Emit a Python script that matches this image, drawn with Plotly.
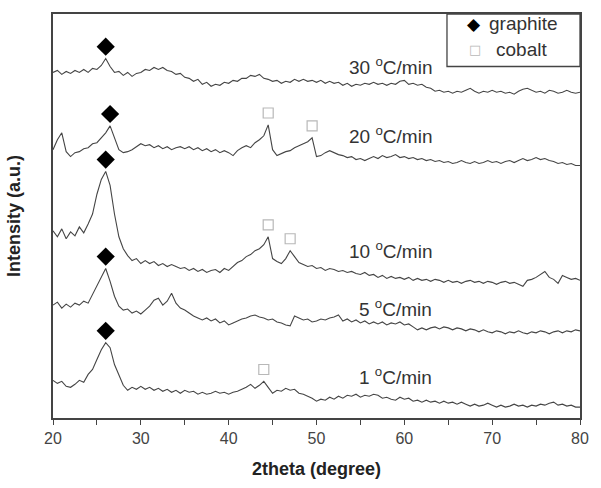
import numpy as np
import plotly.graph_objects as go

# 2theta grid (degrees), 0.5 deg steps from 20 to 80
two_theta = [20 + 0.5 * i for i in range(121)]

# Stacked intensities (a.u.)
i_30 = [349, 351, 347, 350, 348, 351, 349, 352, 349, 353,
        352, 356, 363, 355, 349, 350, 346, 349, 345, 348,
        349, 352, 351, 354, 352, 354, 351, 350, 347, 348,
        344, 343, 340, 342, 337, 339, 335, 337, 336, 339,
        338, 341, 340, 343, 343, 346, 345, 347, 343, 342,
        340, 341, 338, 340, 339, 342, 340, 342, 340, 341,
        339, 341, 338, 340, 338, 339, 336, 338, 335, 337,
        336, 338, 337, 339, 337, 338, 336, 338, 337, 340,
        341, 337, 338, 336, 337, 334, 333, 330, 331, 329,
        330, 328, 330, 329, 331, 333, 330, 328, 330, 329,
        331, 329, 330, 328, 329, 327, 330, 332, 333, 331,
        329, 330, 328, 331, 330, 328, 329, 331, 329, 328,
        329]

i_20 = [271, 281, 288, 269, 264, 268, 269, 272, 273, 277,
        278, 283, 288, 295, 284, 271, 268, 269, 271, 274,
        277, 275, 276, 273, 275, 272, 274, 271, 273, 274,
        272, 274, 271, 273, 270, 272, 269, 271, 268, 270,
        268, 265, 270, 273, 275, 273, 278, 281, 285, 296,
        271, 265, 267, 269, 270, 273, 275, 277, 279, 283,
        264, 265, 268, 270, 268, 266, 265, 263, 264, 261,
        262, 260, 262, 264, 262, 265, 263, 264, 266, 263,
        264, 262, 263, 261, 262, 260, 261, 259, 260, 258,
        259, 257, 258, 260, 258, 257, 259, 257, 258, 260,
        258, 259, 257, 259, 260, 258, 260, 262, 260, 261,
        263, 261, 262, 260, 259, 257, 258, 256, 257, 255,
        255]

i_10 = [189, 183, 191, 181, 188, 184, 193, 187, 196, 206,
        226, 241, 249, 235, 206, 183, 171, 164, 159, 161,
        156, 159, 156, 158, 154, 156, 153, 155, 153, 151,
        152, 149, 151, 148, 150, 147, 149, 150, 147, 151,
        149, 153, 157, 159, 163, 165, 169, 171, 175, 183,
        161, 158, 156, 161, 169, 163, 157, 155, 153, 154,
        151, 152, 149, 151, 150, 148, 149, 147, 148, 146,
        145, 147, 144, 145, 142, 144, 141, 143, 141, 142,
        140, 142, 139, 141, 139, 140, 138, 140, 139, 137,
        139, 137, 138, 136, 138, 139, 137, 138, 136, 138,
        137, 135, 137, 138, 136, 137, 135, 133, 139, 140,
        142, 145, 148, 142, 140, 136, 144, 142, 140, 141,
        139]

i_5 = [114, 117, 111, 115, 112, 116, 114, 118, 116, 125,
       133, 142, 151, 138, 123, 113, 109, 110, 106, 108,
       105, 109, 113, 119, 121, 114, 118, 126, 116, 111,
       109, 106, 103, 101, 99, 101, 98, 100, 96, 98,
       94, 96, 98, 100, 101, 103, 104, 102, 101, 99,
       100, 97, 96, 94, 93, 103, 101, 99, 100, 97,
       98, 100, 99, 101, 102, 104, 98, 100, 97, 99,
       96, 98, 95, 97, 95, 97, 94, 96, 95, 97,
       94, 95, 92, 89, 91, 89, 91, 92, 90, 92,
       91, 89, 91, 90, 88, 90, 89, 87, 89, 87,
       86, 88, 87, 85, 87, 86, 88, 86, 85, 87,
       86, 88, 87, 85, 87, 88, 86, 88, 87, 89,
       88]

i_1 = [38, 35, 37, 32, 31, 34, 38, 36, 44, 49,
       59, 69, 76, 71, 54, 43, 33, 28, 31, 29,
       32, 29, 31, 28, 30, 27, 29, 26, 28, 25,
       28, 26, 27, 24, 26, 24, 25, 27, 25, 26,
       24, 26, 27, 29, 31, 34, 30, 33, 37, 31,
       25, 28, 27, 30, 28, 29, 25, 24, 22, 20,
       17, 19, 18, 21, 19, 22, 20, 23, 22, 24,
       21, 23, 22, 24, 23, 20, 21, 19, 18, 21,
       19, 20, 17, 18, 16, 18, 16, 17, 15, 17,
       15, 16, 14, 16, 14, 12, 14, 12, 13, 15,
       13, 11, 13, 11, 12, 14, 12, 13, 11, 13,
       12, 14, 13, 15, 16, 13, 14, 12, 13, 11,
       11]

series = [("30 °C/min", i_30), ("20 °C/min", i_20), ("10 °C/min", i_10),
          ("5 °C/min", i_5), ("1 °C/min", i_1)]
rate_labels = ["30", "20", "10", "5", "1"]

# Peak assignments (2theta) per pattern
graphite_peaks = {"30": [26.0], "20": [26.5], "10": [26.0], "5": [26.0], "1": [26.0]}
cobalt_peaks = {"30": [], "20": [44.5, 49.5], "10": [44.5, 47.0], "5": [], "1": [44.0]}
phase_names = ["graphite", "cobalt"]

marker_gap = 12  # vertical gap between peak and its symbol (a.u.)

LINE = "#454545"
COBALT = "#b8b8b8"
FONT = "Liberation Sans, Arial, sans-serif"
fig = go.Figure()

for (name, vals) in series:
    fig.add_trace(go.Scatter(x=two_theta, y=vals, mode="lines",
                             line=dict(color=LINE, width=1.1), showlegend=False,
                             hoverinfo="skip"))

gx, gy, cx, cy = [], [], [], []
tt = np.array(two_theta)
for lab, (name, vals) in zip(rate_labels, series):
    v = np.array(vals)
    for p in graphite_peaks[lab]:
        gx.append(p)
        gy.append(float(np.interp(p, tt, v)) + marker_gap)
    for p in cobalt_peaks[lab]:
        cx.append(p)
        cy.append(float(np.interp(p, tt, v)) + marker_gap)

fig.add_trace(go.Scatter(x=gx, y=gy, mode="markers", name=phase_names[0], showlegend=False,
                         marker=dict(symbol="diamond", size=14, color="black")))
fig.add_trace(go.Scatter(x=cx, y=cy, mode="markers", name=phase_names[1], showlegend=False,
                         marker=dict(symbol="square-open", size=10, color=COBALT,
                                     line=dict(width=1.2, color=COBALT))))

# Curve labels (right-aligned above each pattern's tail)
label_pos = {"30": 355, "20": 286, "10": 170, "5": 111, "1": 42}
for lab in rate_labels:
    fig.add_annotation(x=63.4, y=label_pos[lab], xref="x", yref="y",
                       text=f"{lab} <sup>o</sup>C/min", showarrow=False,
                       xanchor="right", yanchor="middle",
                       font=dict(family=FONT, size=19, color="#333"))

# Legend box (top-right corner of the plot area)
fig.add_shape(type="rect", xref="paper", yref="paper", x0=0.7476, x1=1.0, y0=0.870, y1=1.0,
              line=dict(color="#444", width=1.3), fillcolor="white", layer="above")
fig.add_annotation(xref="paper", yref="paper", x=0.7985, y=0.9755, text="◆",
                   showarrow=False, xanchor="center", yanchor="middle",
                   font=dict(family="DejaVu Sans", size=17, color="black"))
fig.add_annotation(xref="paper", yref="paper", x=0.8230, y=0.9755, text=phase_names[0],
                   showarrow=False, xanchor="left", yanchor="middle",
                   font=dict(family=FONT, size=19, color="#333"))
fig.add_annotation(xref="paper", yref="paper", x=0.8000, y=0.912, text="□",
                   showarrow=False, xanchor="center", yanchor="middle",
                   font=dict(family="DejaVu Sans", size=13, color=COBALT))
fig.add_annotation(xref="paper", yref="paper", x=0.8360, y=0.912, text=phase_names[1],
                   showarrow=False, xanchor="left", yanchor="middle",
                   font=dict(family=FONT, size=19, color="#333"))

fig.update_layout(
    width=601, height=488,
    margin=dict(l=53, r=17, t=13, b=67),
    paper_bgcolor="white", plot_bgcolor="white",
    font=dict(family=FONT, color="#333"),
    showlegend=False,
    xaxis=dict(range=[20, 80], tickmode="linear", tick0=20, dtick=10,
               ticks="outside", ticklen=5, tickwidth=1.2, tickcolor="#444",
               minor=dict(dtick=5, ticks="outside", ticklen=5, tickwidth=1.2, tickcolor="#444"),
               showline=True, linecolor="#444", linewidth=1.5, mirror=True,
               showgrid=False, zeroline=False,
               tickfont=dict(size=16, color="#444"),
               title=dict(text="<b>2theta (degree)</b>", font=dict(size=18, color="#222"),
                          standoff=16)),
    yaxis=dict(range=[0, 408], showticklabels=False, ticks="",
               showline=True, linecolor="#444", linewidth=1.5, mirror=True,
               showgrid=False, zeroline=False,
               title=dict(text="<b>Intensity (a.u.)</b>", font=dict(size=18, color="#222"),
                          standoff=26)),
)

fig.write_html("out.html")
